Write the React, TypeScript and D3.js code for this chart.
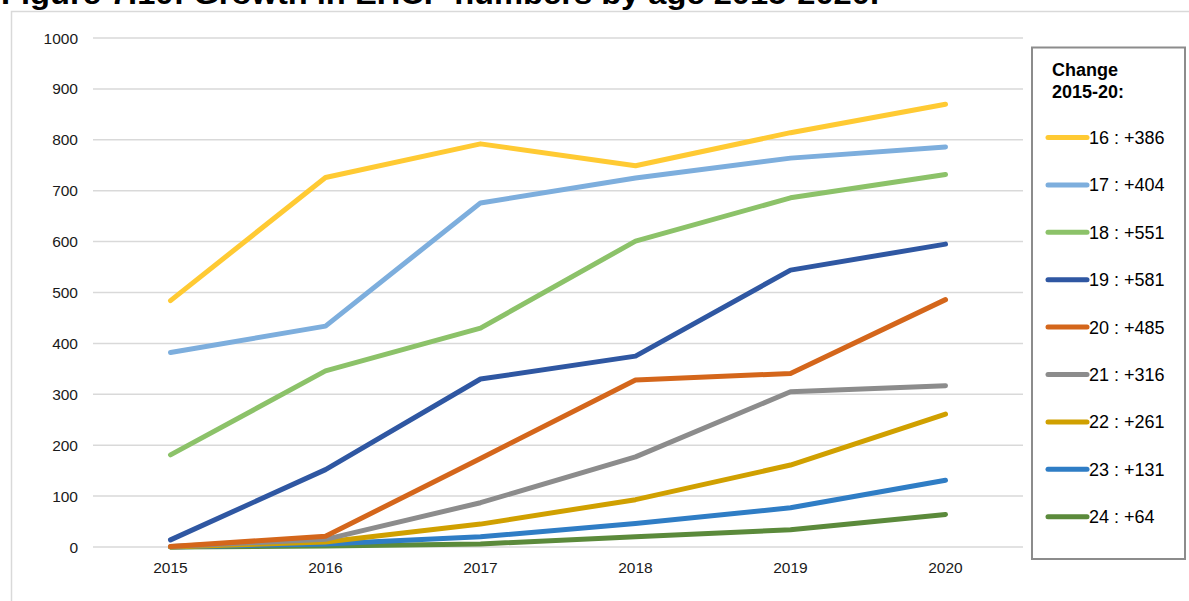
import React from "react";
import * as d3 from "d3";

const years = ["2015", "2016", "2017", "2018", "2019", "2020"];
const ages = ["16", "17", "18", "19", "20", "21", "22", "23", "24"];
const changes = ["+386", "+404", "+551", "+581", "+485", "+316", "+261", "+131", "+64"];
const colors = ["#FFCA33", "#7DAEDD", "#8CC269", "#2F57A2", "#D4661B", "#8C8C8C", "#D0A000", "#2F7DC5", "#5B8A3B"];

const age16 = [484, 726, 792, 749, 814, 870];
const age17 = [382, 434, 676, 725, 764, 786];
const age18 = [181, 346, 430, 601, 686, 732];
const age19 = [14, 152, 330, 375, 544, 595];
const age20 = [1, 21, 174, 328, 341, 486];
const age21 = [1, 15, 87, 177, 305, 317];
const age22 = [0, 10, 45, 93, 161, 261];
const age23 = [0, 6, 20, 46, 77, 131];
const age24 = [0, 2, 6, 20, 34, 64];
const series = [age16, age17, age18, age19, age20, age21, age22, age23, age24];

const yTicks = [0, 100, 200, 300, 400, 500, 600, 700, 800, 900, 1000];
const titleText = "Figure 7.10: Growth in EHCP numbers by age 2015-2020.";

export default function App() {
  const W = 1189, H = 601;
  const x = d3.scaleBand<string>().domain(years).range([93, 1023]);
  const y = d3.scaleLinear().domain([0, 1000]).range([547, 38]);
  const line = d3
    .line<number>()
    .x((_, i) => (x(years[i]) as number) + x.bandwidth() / 2)
    .y((d) => y(d));
  const font = "'Liberation Sans', Arial, sans-serif";
  const legX = 1032, legY = 47.5, legW = 153, legH = 511.5;
  const itemY0 = 137.5, itemStep = 47.4;

  return (
    <svg
      width={W}
      height={H}
      style={{ position: "absolute", left: 0, top: 0, background: "#fff" }}
      fontFamily={font}
    >
      <rect x={11.5} y={11.5} width={1300} height={700} fill="#fff" stroke="#D9D9D9" strokeWidth={1.5} />
      <text x={1} y={4} fontSize={30} fontWeight="bold" fill="#000" textLength={878} lengthAdjust="spacingAndGlyphs">
        {titleText}
      </text>
      {yTicks.map((t) => (
        <g key={t}>
          <line x1={93} x2={1023} y1={y(t)} y2={y(t)} stroke="#D9D9D9" strokeWidth={1.5} />
          <text x={78} y={y(t) + 5.5} fontSize={15.5} textAnchor="end" fill="#1a1a1a">
            {t}
          </text>
        </g>
      ))}
      {years.map((yr) => (
        <text key={yr} x={(x(yr) as number) + x.bandwidth() / 2} y={573} fontSize={15.5} textAnchor="middle" fill="#1a1a1a">
          {yr}
        </text>
      ))}
      {series
        .map((s, i) => ({ s, i }))
        .reverse()
        .map(({ s, i }) => (
          <path
            key={ages[i]}
            d={line(s) as string}
            fill="none"
            stroke={colors[i]}
            strokeWidth={5}
            strokeLinecap="round"
            strokeLinejoin="round"
          />
        ))}
      <rect x={legX} y={legY} width={legW} height={legH} fill="#fff" stroke="#8C8C8C" strokeWidth={2} />
      <text x={1052} y={76} fontSize={18} fontWeight="bold" fill="#000">Change</text>
      <text x={1052} y={97.5} fontSize={18} fontWeight="bold" fill="#000">2015-20:</text>
      {ages.map((a, i) => {
        const cy = itemY0 + i * itemStep;
        return (
          <g key={a}>
            <line x1={1048} x2={1087} y1={cy} y2={cy} stroke={colors[i]} strokeWidth={5} strokeLinecap="round" />
            <text x={1089} y={cy + 6.5} fontSize={18} fill="#000">
              {`${a} : ${changes[i]}`}
            </text>
          </g>
        );
      })}
    </svg>
  );
}
